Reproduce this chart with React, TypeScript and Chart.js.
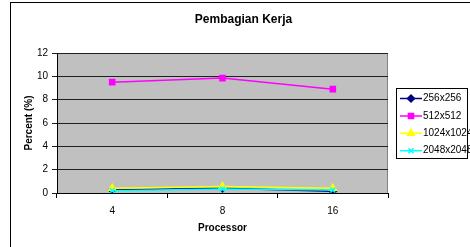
import React, { useEffect, useRef } from "react";
import { Chart, registerables } from "chart.js";
import { drawPoint } from "chart.js/helpers";

Chart.register(...registerables);

const categories = ["4", "8", "16"];
const seriesNames = ["256x256", "512x512", "1024x1024", "2048x2048"];
const s256 = [0.25, 0.4, 0.15];
const s512 = [9.5, 9.85, 8.9];
const s1024 = [0.4, 0.55, 0.4];
const s2048 = [0.2, 0.35, 0.25];
const yTicks = [0, 2, 4, 6, 8, 10, 12];

const chartTitle = "Pembagian Kerja";
const xTitle = "Processor";
const yTitle = "Percent (%)";

const colors = ["#000080", "#FF00FF", "#FFFF00", "#00FFFF"];
const styles = ["rectRot", "rect", "triangle", "crossRot"];
const radii = [3.5, 3.6, 4, 3.5];

const FONT = "'Liberation Sans', Arial, sans-serif";

export default function App() {
  const ref = useRef<HTMLCanvasElement | null>(null);

  useEffect(() => {
    document.body.style.margin = "0";
    const canvas = ref.current;
    if (!canvas) return;
    const values = [s256, s512, s1024, s2048];

    const decor = {
      id: "decor",
      beforeDraw(chart: any) {
        const { ctx, chartArea: a } = chart;
        ctx.save();
        ctx.fillStyle = "#FFFFFF";
        ctx.fillRect(0, 0, chart.width, chart.height);
        ctx.strokeStyle = "#000000";
        ctx.lineWidth = 1;
        ctx.strokeRect(10.5, 2.5, 500, 300);
        ctx.fillStyle = "#C0C0C0";
        ctx.fillRect(a.left, a.top, a.right - a.left, a.bottom - a.top);
        ctx.strokeStyle = "#808080";
        ctx.beginPath();
        ctx.moveTo(a.left, a.top + 0.5);
        ctx.lineTo(a.right - 0.5, a.top + 0.5);
        ctx.lineTo(a.right - 0.5, a.bottom);
        ctx.stroke();
        ctx.restore();
      },
      afterDraw(chart: any) {
        const { ctx } = chart;
        ctx.save();
        ctx.fillStyle = "#000000";
        ctx.font = `bold 12px ${FONT}`;
        ctx.textAlign = "center";
        ctx.textBaseline = "middle";
        ctx.fillText(chartTitle, 243.5, 20);

        // legend
        const lx = 396.5, ly = 88.5, lw = 71, lh = 70;
        ctx.fillStyle = "#FFFFFF";
        ctx.fillRect(lx, ly, lw, lh);
        const rows = [98.5, 116, 133.3, 150.7];
        seriesNames.forEach((name, i) => {
          const y = rows[i];
          ctx.strokeStyle = colors[i];
          ctx.fillStyle = colors[i];
          ctx.lineWidth = 1.5;
          ctx.beginPath();
          ctx.moveTo(400, y);
          ctx.lineTo(422, y);
          ctx.stroke();
          drawPoint(ctx, { pointStyle: styles[i], rotation: 0, radius: radii[i], borderWidth: 1.5 } as any, 411, y);
          ctx.fillStyle = "#000000";
          ctx.font = `10px ${FONT}`;
          ctx.textAlign = "left";
          ctx.textBaseline = "middle";
          ctx.fillText(name, 423, y);
        });
        ctx.strokeStyle = "#000000";
        ctx.lineWidth = 1;
        ctx.strokeRect(lx, ly, lw, lh);
        ctx.restore();
      },
    };

    const chart = new Chart(canvas, {
      type: "line",
      data: {
        labels: categories,
        datasets: values.map((v, i) => ({
          label: seriesNames[i],
          data: v,
          borderColor: colors[i],
          backgroundColor: colors[i],
          borderWidth: 1.5,
          pointStyle: styles[i] as any,
          pointRadius: radii[i],
          pointBorderWidth: 1.5,
          pointBorderColor: colors[i],
          pointBackgroundColor: colors[i],
          tension: 0,
          fill: false,
          order: 4 - i,
        })),
      },
      options: {
        responsive: false,
        animation: false,
        events: [],
        layout: { padding: { left: 0, top: 53, right: 82, bottom: 0 } },
        plugins: {
          legend: { display: false },
          title: { display: false },
          tooltip: { enabled: false },
        },
        scales: {
          x: {
            type: "category",
            offset: true,
            afterFit: (s: any) => {
              s.height = 54;
            },
            grid: {
              offset: true,
              drawOnChartArea: false,
              drawTicks: true,
              tickLength: 5,
              color: "#000000",
            },
            border: { display: true, color: "#000000", width: 1 },
            ticks: {
              color: "#000000",
              font: { family: FONT, size: 10 },
              padding: 7,
              maxRotation: 0,
            },
            title: {
              display: true,
              text: xTitle,
              color: "#000000",
              font: { family: FONT, size: 10, weight: "bold" },
              padding: { top: 0, bottom: 12.5 },
            },
          },
          y: {
            min: 0,
            max: 12,
            afterFit: (s: any) => {
              s.width = 57;
            },
            afterBuildTicks: (s: any) => {
              s.ticks = yTicks.map((v) => ({ value: v }));
            },
            grid: {
              drawTicks: true,
              tickLength: 5,
              color: "#202020",
            },
            border: { display: true, color: "#000000", width: 1 },
            ticks: {
              color: "#000000",
              font: { family: FONT, size: 10 },
              padding: 4,
            },
            title: {
              display: true,
              text: yTitle,
              color: "#000000",
              font: { family: FONT, size: 10, weight: "bold" },
              padding: { top: 23, bottom: 0 },
            },
          },
        },
      },
      plugins: [decor],
    });
    return () => chart.destroy();
  }, []);

  return (
    <div style={{ width: 470, height: 247 }}>
      <canvas ref={ref} width={470} height={247} style={{ display: "block" }} />
    </div>
  );
}
